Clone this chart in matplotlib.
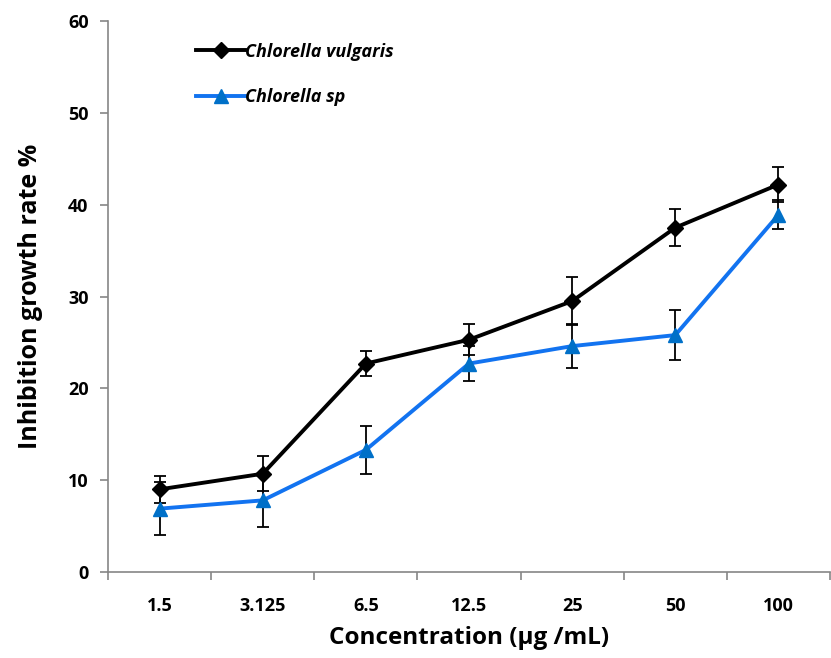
import numpy as np
import matplotlib.pyplot as plt
from matplotlib.ticker import FixedLocator

plt.rcParams['font.family'] = ['Open Sans', 'DejaVu Sans']

concentrations = ['1.5', '3.125', '6.5', '12.5', '25', '50', '100']
vulgaris = [9.0, 10.7, 22.7, 25.3, 29.5, 37.5, 42.2]
vulgaris_err = [1.5, 1.9, 1.4, 1.7, 2.6, 2.0, 1.9]
sp = [6.9, 7.8, 13.3, 22.7, 24.6, 25.8, 38.9]
sp_err = [2.9, 2.9, 2.6, 1.9, 2.4, 2.7, 1.6]

axis_grey = '#868686'

fig = plt.figure(figsize=(8.31, 6.58), dpi=100)
ax = fig.add_axes([0.130, 0.1307, 0.8688, 0.8373])

x = np.arange(len(concentrations))

ax.errorbar(x, vulgaris, yerr=vulgaris_err, fmt='none', ecolor='black',
            elinewidth=1.3, capsize=4, capthick=1.3, zorder=2)
ax.errorbar(x, sp, yerr=sp_err, fmt='none', ecolor='black',
            elinewidth=1.3, capsize=4, capthick=1.3, zorder=2)
ax.plot(x, vulgaris, color='black', lw=2.8, marker='D', ms=8.5,
        mfc='black', mec='black', label='Chlorella vulgaris', zorder=3)
ax.plot(x, sp, color='#1273F0', lw=2.8, marker='^', ms=10,
        mfc='#0070C8', mec='#0070C8', label='Chlorella sp', zorder=3)

ax.set_xlim(-0.5, len(concentrations) - 0.5)
ax.set_ylim(0, 60)
ax.set_yticks(np.arange(0, 61, 10))
ax.set_xticks(x)
ax.set_xticklabels(concentrations)
ax.xaxis.set_minor_locator(FixedLocator(np.arange(-0.5, len(concentrations), 1)))

for side in ('top', 'right'):
    ax.spines[side].set_visible(False)
for side in ('left', 'bottom'):
    ax.spines[side].set_color(axis_grey)
    ax.spines[side].set_linewidth(1.2)

ax.tick_params(axis='y', direction='out', length=6, width=1.2, color=axis_grey,
               labelsize=13, pad=8)
ax.tick_params(axis='x', which='major', length=0, labelsize=13, pad=18)
ax.tick_params(axis='x', which='minor', direction='out', length=6, width=1.2,
               color=axis_grey)
for lbl in ax.get_xticklabels() + ax.get_yticklabels():
    lbl.set_fontweight('bold')

ax.set_ylabel('Inhibition growth rate %', fontsize=18, fontweight='bold', labelpad=18)
ax.set_xlabel('Concentration (µg /mL)', fontsize=17.5, fontweight='bold', labelpad=8)

leg = ax.legend(loc='upper left', bbox_to_anchor=(0.1, 0.99), frameon=False,
                handlelength=2.7, handletextpad=0.0, labelspacing=1.5,
                prop={'weight': 'bold', 'style': 'italic', 'size': 13})

fig.savefig('out.png', dpi=100)
